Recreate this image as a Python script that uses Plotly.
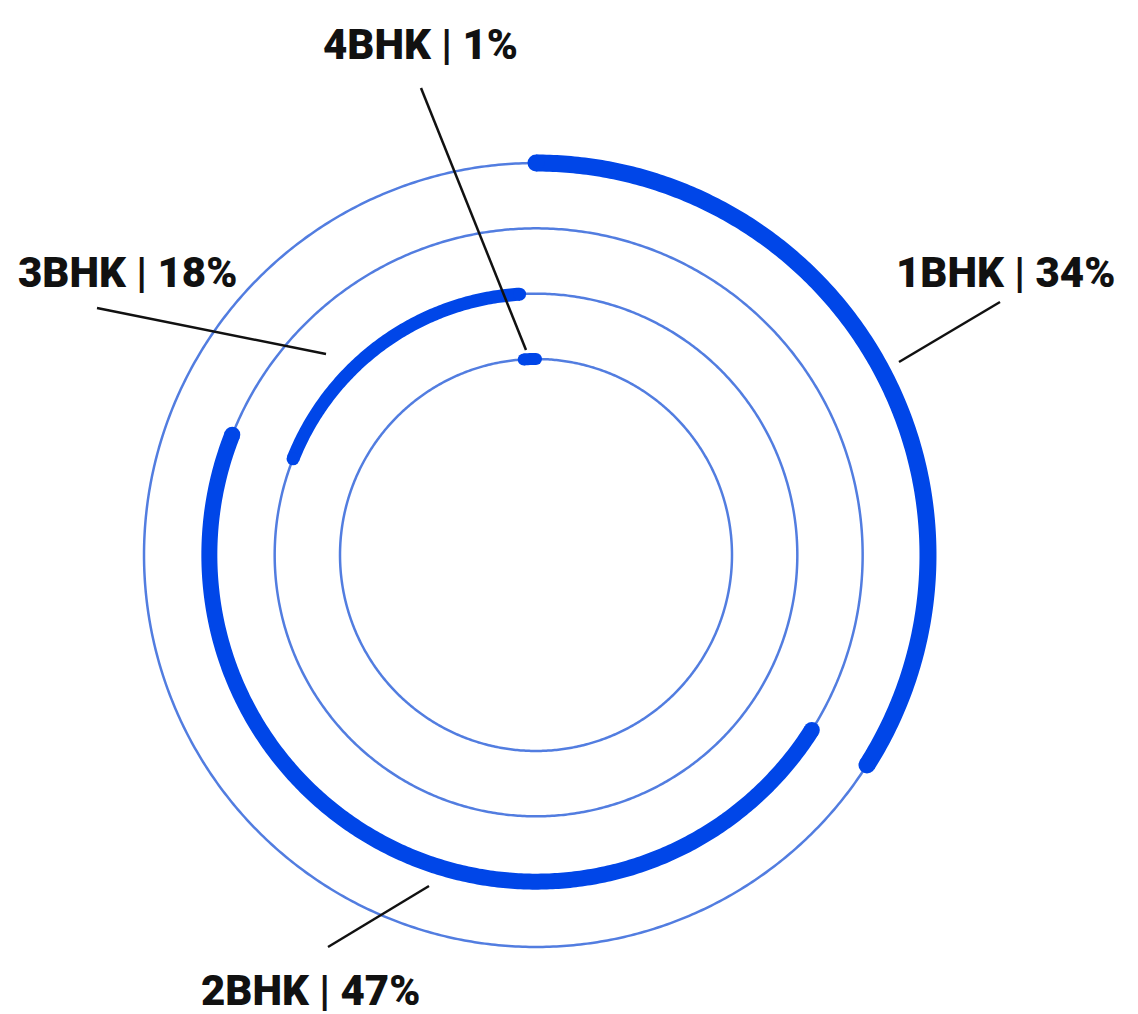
import numpy as np
import plotly.graph_objects as go

# Unit mix of the project (share of units, %)
categories = ["1BHK", "2BHK", "3BHK", "4BHK"]
shares = [34, 47, 18, 1]

# Each category sits on its own ring; the arcs follow one another clockwise
ring_of = {"1BHK": 6, "2BHK": 5, "3BHK": 4, "4BHK": 3}
arc_width = {"1BHK": 17, "2BHK": 16, "3BHK": 13, "4BHK": 12}

W, H = 1138, 1014
CX, CY = 536, 555          # centre of the rings, px
R_MAX = 6.3                # radial range upper bound
PX_PER_UNIT = 65.33
R_PX = R_MAX * PX_PER_UNIT

ARC_COLOR = "#0046e8"
RING_COLOR = "#527de0"
TEXT_COLOR = "#111111"

fig = go.Figure()

# thin guide rings
for r in sorted(set(ring_of.values())):
    th = np.linspace(0, 360, 721)
    fig.add_trace(go.Scatterpolar(
        r=np.full_like(th, r, dtype=float), theta=th, mode="lines",
        line=dict(color=RING_COLOR, width=2.5), hoverinfo="skip", cliponaxis=False,
    ))

# thick arcs, stacked by cumulative share
start = 0.0
for cat, share in zip(categories, shares):
    a0 = start * 3.6
    a1 = (start + share) * 3.6
    start += share
    r = ring_of[cat]
    w = arc_width[cat]
    th = np.linspace(a0, a1, max(int((a1 - a0) * 2), 2))
    fig.add_trace(go.Scatterpolar(
        r=np.full_like(th, r, dtype=float), theta=th, mode="lines",
        line=dict(color=ARC_COLOR, width=w), name=cat, cliponaxis=False,
        hovertemplate=f"{cat}: {share}%<extra></extra>",
    ))
    # rounded ends
    fig.add_trace(go.Scatterpolar(
        r=[r, r], theta=[a0, a1], mode="markers",
        marker=dict(color=ARC_COLOR, size=w, line=dict(width=0)),
        hoverinfo="skip", cliponaxis=False,
    ))

# label placement (px) and leader lines (px)
label_pos = {
    "1BHK": (1006, 272),
    "2BHK": (310, 990),
    "3BHK": (128, 272),
    "4BHK": (420, 44),
}
leaders = {
    "1BHK": ((1000, 302), (899, 362)),
    "2BHK": ((328, 947), (429, 886)),
    "3BHK": ((97, 308), (326, 354)),
    "4BHK": ((421, 88), (526, 350)),
}


def px(x, y):
    return x / W, 1 - y / H


annotations = []
shapes = []
for cat, share in zip(categories, shares):
    lx, ly = px(*label_pos[cat])
    annotations.append(dict(
        x=lx, y=ly, xref="paper", yref="paper", xanchor="center", yanchor="middle",
        text=f"{cat} | {share}%", showarrow=False,
        font=dict(family="Roboto", size=42, color=TEXT_COLOR, weight=900),
    ))
    (x0, y0), (x1, y1) = leaders[cat]
    sx0, sy0 = px(x0, y0)
    sx1, sy1 = px(x1, y1)
    shapes.append(dict(
        type="line", xref="paper", yref="paper", x0=sx0, y0=sy0, x1=sx1, y1=sy1,
        line=dict(color=TEXT_COLOR, width=2.5),
    ))

fig.update_layout(
    width=W, height=H,
    margin=dict(l=0, r=0, t=0, b=0),
    paper_bgcolor="white", plot_bgcolor="white",
    showlegend=False,
    polar=dict(
        domain=dict(x=[(CX - R_PX) / W, (CX + R_PX) / W],
                    y=[(H - CY - R_PX) / H, (H - CY + R_PX) / H]),
        bgcolor="rgba(0,0,0,0)",
        radialaxis=dict(range=[0, R_MAX], visible=False, showgrid=False,
                        showline=False, showticklabels=False, ticks=""),
        angularaxis=dict(rotation=90, direction="clockwise", visible=False,
                         showgrid=False, showline=False, showticklabels=False, ticks=""),
    ),
    annotations=annotations,
    shapes=shapes,
)

fig.write_html("out.html")
